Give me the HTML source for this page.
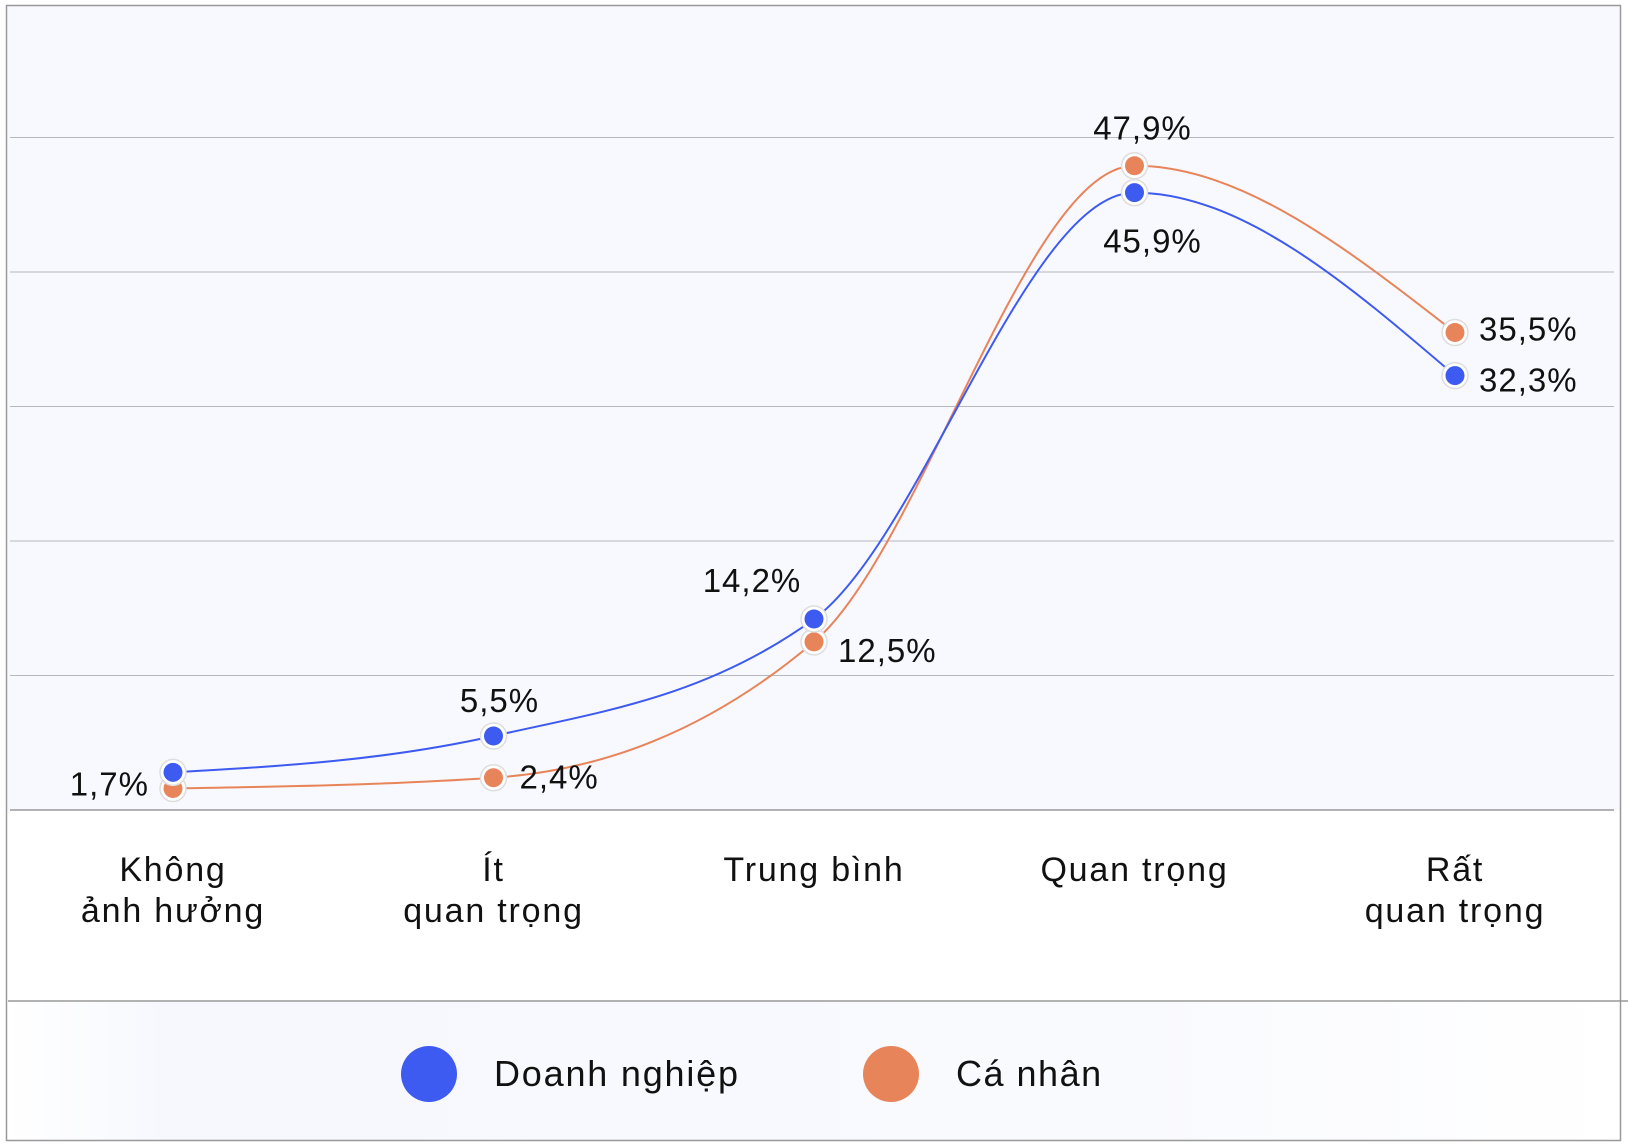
<!DOCTYPE html>
<html><head><meta charset="utf-8"><style>
html,body{margin:0;padding:0;background:#fff}
svg{display:block;font-family:"Liberation Sans",sans-serif}
</style></head><body>
<svg id="chart" width="1628" height="1148" viewBox="0 0 1628 1148" xmlns="http://www.w3.org/2000/svg">
<defs><linearGradient id="lg" x1="0" x2="1"><stop offset="0" stop-color="#fff"/><stop offset="0.1" stop-color="#f6f8fe"/><stop offset="0.7" stop-color="#f9fafe"/><stop offset="1" stop-color="#fff"/></linearGradient></defs>
<rect x="6" y="5" width="1615" height="805" fill="#f8f9fe"/>
<rect x="6" y="1001" width="1615" height="140" fill="url(#lg)"/>
<rect x="6.5" y="5.5" width="1614" height="1135" fill="none" stroke="#999" stroke-width="1.5"/>
<line x1="8" x2="1628" y1="1001" y2="1001" stroke="#999" stroke-width="1.5"/>
<g id="grid"></g><g id="xlabels"></g><g id="lines"></g><g id="marks"></g><g id="vals"></g>
<g>
<g><circle cx="429" cy="1074" r="28" fill="#3d5af1"/><text x="494" y="1086" font-size="36" letter-spacing="1.8" fill="#111">Doanh nghiệp</text></g>
<g><circle cx="891" cy="1074" r="28" fill="#e8845a"/><text x="956" y="1086" font-size="36" letter-spacing="1.5" fill="#111">Cá nhân</text></g>
</g>
</svg>
<script>
const categories=[["Không","ảnh hưởng"],["Ít","quan trọng"],["Trung bình"],["Quan trọng"],["Rất","quan trọng"]];
const doanhNghiep=[2.8,5.5,14.2,45.9,32.3];
const caNhan=[1.6,2.4,12.5,47.9,35.5];
const dnLabels=["1,7%","5,5%","14,2%","45,9%","32,3%"];
const cnLabels=["","2,4%","12,5%","47,9%","35,5%"];
const yTicks=[0,10,20,30,40,50];
const NS="http://www.w3.org/2000/svg";
const x=i=>173+i*320.5;
const y=v=>810-v*13.45;
function el(t,a,p){const e=document.createElementNS(NS,t);for(const k in a)e.setAttribute(k,a[k]);document.getElementById(p).appendChild(e);return e;}
yTicks.forEach(t=>{const l=el('line',{x1:10,x2:1614,y1:y(t),y2:y(t),stroke:t===0?'#999':'#b5b7bd','stroke-width':t===0?1.5:1},'grid');

});
categories.forEach((c,i)=>{c.forEach((s,j)=>{const t=el('text',{x:x(i),y:869+j*41+12,'text-anchor':'middle','font-size':34,'letter-spacing':1.8,fill:'#111'},'xlabels');t.textContent=s;

});});
function path(vals){const p=vals.map((v,i)=>[x(i),y(v)]);const n=p.length;const s=[],m=[];
for(let i=0;i<n-1;i++)s.push((p[i+1][1]-p[i][1])/(p[i+1][0]-p[i][0]));
for(let i=0;i<n;i++){if(i===0)m.push(s[0]);else if(i===n-1)m.push(s[n-2]);else{if(s[i-1]*s[i]<=0)m.push(0);else{const h=p[i+1][0]-p[i][0],h0=p[i][0]-p[i-1][0];const pp=(s[i-1]*h+s[i]*h0)/(h0+h);m.push((Math.sign(s[i-1])+Math.sign(s[i]))*Math.min(Math.abs(s[i-1]),Math.abs(s[i]),0.5*Math.abs(pp))||0);}}}
m[0]=(3*s[0]-m[1])/2;m[n-1]=(3*s[n-2]-m[n-2])/2;
let d='M'+p[0][0]+','+p[0][1];
for(let i=0;i<n-1;i++){const h=(p[i+1][0]-p[i][0])/3;d+=' C'+(p[i][0]+h)+','+(p[i][1]+h*m[i])+' '+(p[i+1][0]-h)+','+(p[i+1][1]-h*m[i+1])+' '+p[i+1][0]+','+p[i+1][1];}return d;}
const lc=el('path',{d:path(caNhan),fill:'none',stroke:'#e8845a','stroke-width':2},'lines');


const ld=el('path',{d:path(doanhNghiep),fill:'none',stroke:'#3d5af1','stroke-width':2},'lines');


function marks(vals,col,name){vals.forEach((v,i)=>{el('circle',{cx:x(i),cy:y(v),r:13,fill:'#fff',stroke:'#ddd','stroke-width':1.5},'marks');
const c=el('circle',{cx:x(i),cy:y(v),r:9.5,fill:col},'marks');

});}
marks(caNhan,'#e8845a','ca-nhan');marks(doanhNghiep,'#3d5af1','doanh-nghiep');
const dnPos=[[-24,12,'end'],[6,-35,'middle'],[-62,-38,'middle'],[18,49,'middle'],[24,5,'start']];
const cnPos=[[0,0,'start'],[26,0,'start'],[24,9,'start'],[8,-37,'middle'],[24,-3,'start']];
function labels(vals,labs,pos,name){vals.forEach((v,i)=>{if(!labs[i])return;const t=el('text',{x:x(i)+pos[i][0],y:y(v)+pos[i][1]+11,'text-anchor':pos[i][2],'font-size':33,'letter-spacing':1,fill:'#111'},'vals');t.textContent=labs[i];

});}
labels(doanhNghiep,dnLabels,dnPos,'doanh-nghiep');labels(caNhan,cnLabels,cnPos,'ca-nhan');
</script>
</body></html>
